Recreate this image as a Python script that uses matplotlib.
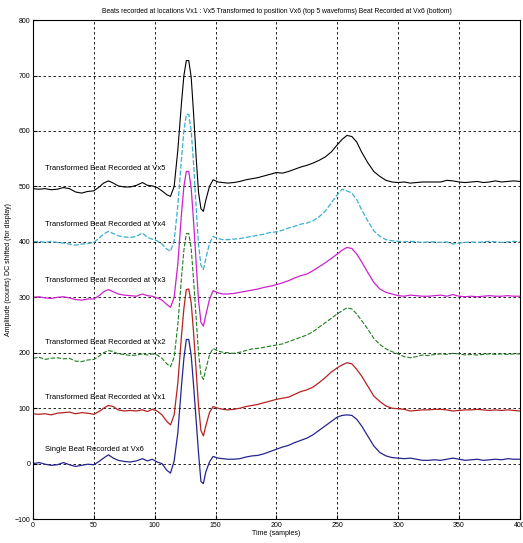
import matplotlib
matplotlib.use("Agg")
import matplotlib.pyplot as plt

plt.rcParams['font.family'] = ['Liberation Sans', 'DejaVu Sans']

# sample positions (denser around the QRS complex)
t = [0, 5, 10, 15, 20, 25, 30, 35, 40, 45, 50, 55,
     58, 62, 66, 70,
     75, 80, 85, 90,
     94, 98, 102, 106, 110,
     113, 116, 119, 122, 124, 126, 128, 130, 132, 134, 136, 138, 140, 142,
     145, 148, 152, 156, 160,
     165, 170, 175, 180, 185, 190, 195, 200, 205, 210, 215, 220, 225, 230, 235, 240, 245, 250,
     254, 258, 262, 266, 270,
     275, 280, 285, 290, 295, 300, 305, 310, 315, 320, 325, 330, 335, 340, 345, 350, 355,
     360, 365, 370, 375, 380, 385, 390, 395, 400]

vx6 = [0, 2, -1, -3, -2, 2, -2, -5, -3, -1, -2, 5,
       10, 16, 10, 6,
       4, 3, 5, 9,
       5, 8, 3, 0, -12,
       -17, 5, 55, 140, 190, 224, 224, 195, 140, 80, 20, -32, -36, -15,
       3, 13, 10, 9, 8,
       8, 9, 12, 14, 15, 18, 22, 26, 30, 33, 38, 42, 46, 52, 60, 68, 76, 84,
       87, 88, 87, 80, 68,
       50, 32, 20, 14, 11, 10, 9, 10, 8, 6, 6, 7, 6, 8, 10, 8, 6, 7, 8, 6, 7, 8, 7, 9, 8, 8]

vx1 = [90, 89, 90, 88, 91, 92, 93, 90, 92, 91, 89, 95,
       100, 105, 103, 97,
       95, 96, 95, 97,
       94, 98, 95, 88, 76,
       70, 88, 145, 230, 280, 314, 315, 290, 235, 170, 105, 60, 50, 68,
       92, 103, 100, 98, 97,
       98, 100, 103, 105, 107, 110, 113, 116, 118, 120, 125, 130, 133, 138, 146, 155, 165, 173,
       178, 182, 180, 170, 158,
       140, 122, 112, 104, 100, 99, 98, 95, 96, 97, 97, 98, 98, 97, 95, 96, 97, 97, 98, 97, 96, 97, 96, 97, 96, 95]

vx2 = [190, 192, 188, 190, 191, 189, 190, 185, 184, 187, 188, 195,
       200, 204, 202, 198,
       197, 195, 196, 198,
       196, 198, 196, 190, 180,
       175, 192, 250, 335, 385, 415, 415, 388, 330, 265, 200, 160, 152, 170,
       196, 208, 203, 201, 200,
       199, 201, 204, 207, 208, 210, 212, 214, 216, 220, 224, 228, 232, 238, 246, 254, 262, 270,
       276, 281, 279, 270, 258,
       243, 226, 215, 207, 202, 198, 193, 191, 193, 196, 195, 197, 198, 197, 199, 198, 196, 197, 196, 197, 198, 197, 198, 197, 198, 198]

vx3 = [300, 301, 299, 298, 300, 301, 299, 296, 295, 297, 297, 304,
       310, 314, 310, 306,
       304, 303, 302, 306,
       303, 302, 299, 295, 287,
       282, 300, 360, 450, 500, 527, 527, 497, 435, 365, 295, 255, 248, 268,
       296, 312, 308, 306, 306,
       307, 309, 311, 313, 315, 318, 320, 323, 326, 330, 335, 339, 342, 348, 355, 362, 370, 378,
       385, 390, 388, 378, 364,
       345, 327, 315, 309, 306, 303, 302, 304, 303, 302, 302, 303, 304, 302, 305, 302, 301, 302, 301, 302, 303, 302, 302, 303, 302, 302]

vx4 = [400, 401, 399, 401, 399, 398, 396, 394, 396, 397, 399, 408,
       414, 419, 415, 411,
       409, 408, 410, 416,
       408, 405, 402, 396, 387,
       383, 402, 465, 550, 600, 630, 630, 600, 540, 465, 395, 358, 350, 370,
       397, 410, 406, 404, 404,
       405, 406, 408, 410, 412, 414, 417, 418, 421, 425, 428, 432, 434, 438, 445, 455, 470, 485,
       495, 492, 488, 476, 458,
       438, 420, 410, 404, 402, 401, 400, 401, 400, 399, 400, 400, 399, 400, 396, 398, 399, 400, 399, 400, 401, 400, 399, 400, 401, 400]

vx5 = [496, 495, 496, 494, 495, 498, 496, 490, 488, 491, 492, 500,
       506, 510, 506, 501,
       499, 499, 502, 507,
       502, 501, 498, 492, 485,
       482, 500, 565, 650, 700, 727, 727, 697, 630, 555, 490, 460, 455, 475,
       500, 512, 508, 507, 506,
       507, 509, 512, 514, 516, 519, 522, 525, 524, 527, 531, 535, 538, 542, 547, 553, 562, 575,
       585, 592, 590, 580, 562,
       543, 527, 518, 511, 508, 507, 508, 506, 507, 508, 508, 508, 508, 511, 510, 508, 507, 508, 509, 507, 508, 510, 508, 509, 510, 509]

labels = ['Single Beat Recorded at Vx6',
          'Transformed Beat Recorded at Vx1',
          'Transformed Beat Recorded at Vx2',
          'Transformed Beat Recorded at Vx3',
          'Transformed Beat Recorded at Vx4',
          'Transformed Beat Recorded at Vx5']
label_y = [25, 120, 219, 330, 431, 533]

fig = plt.figure(figsize=(5.23, 5.43), dpi=100)
ax = fig.add_axes([0.063, 0.044, 0.931, 0.919])

ax.plot(t, vx5, color='black', lw=0.8)
ax.plot(t, vx4, color='#3aaed0', lw=0.9, ls=(0, (4, 1.5)))
ax.plot(t, vx3, color='#cc22cc', lw=0.9)
ax.plot(t, vx2, color='#1f7f1f', lw=0.8, ls=(0, (4, 1.5)))
ax.plot(t, vx1, color='#b52222', lw=0.9)
ax.plot(t, vx6, color='#25258f', lw=0.9)

for txt, yy in zip(labels, label_y):
    ax.text(10, yy, txt, fontsize=5.5, va='center', ha='left')

ax.set_xlim(0, 400)
ax.set_ylim(-100, 800)
ax.set_xticks(range(0, 401, 50))
ax.set_yticks(range(-100, 801, 100))
ax.grid(True, color='black', ls=(0, (3, 3)), lw=0.6)
ax.tick_params(direction='in', length=3, labelsize=5, pad=2)
for s in ax.spines.values():
    s.set_linewidth(0.8)

ax.set_title('Beats recorded at locations Vx1 : Vx5 Transformed to position Vx6 '
             '(top 5 waveforms) Beat Recorded at Vx6 (bottom)', fontsize=4.9, pad=5)
ax.set_xlabel('Time (samples)', fontsize=5, labelpad=1)
ax.set_ylabel('Amplitude (counts) DC shifted (for display)', fontsize=5, labelpad=2)

fig.savefig('out.png', dpi=100)
